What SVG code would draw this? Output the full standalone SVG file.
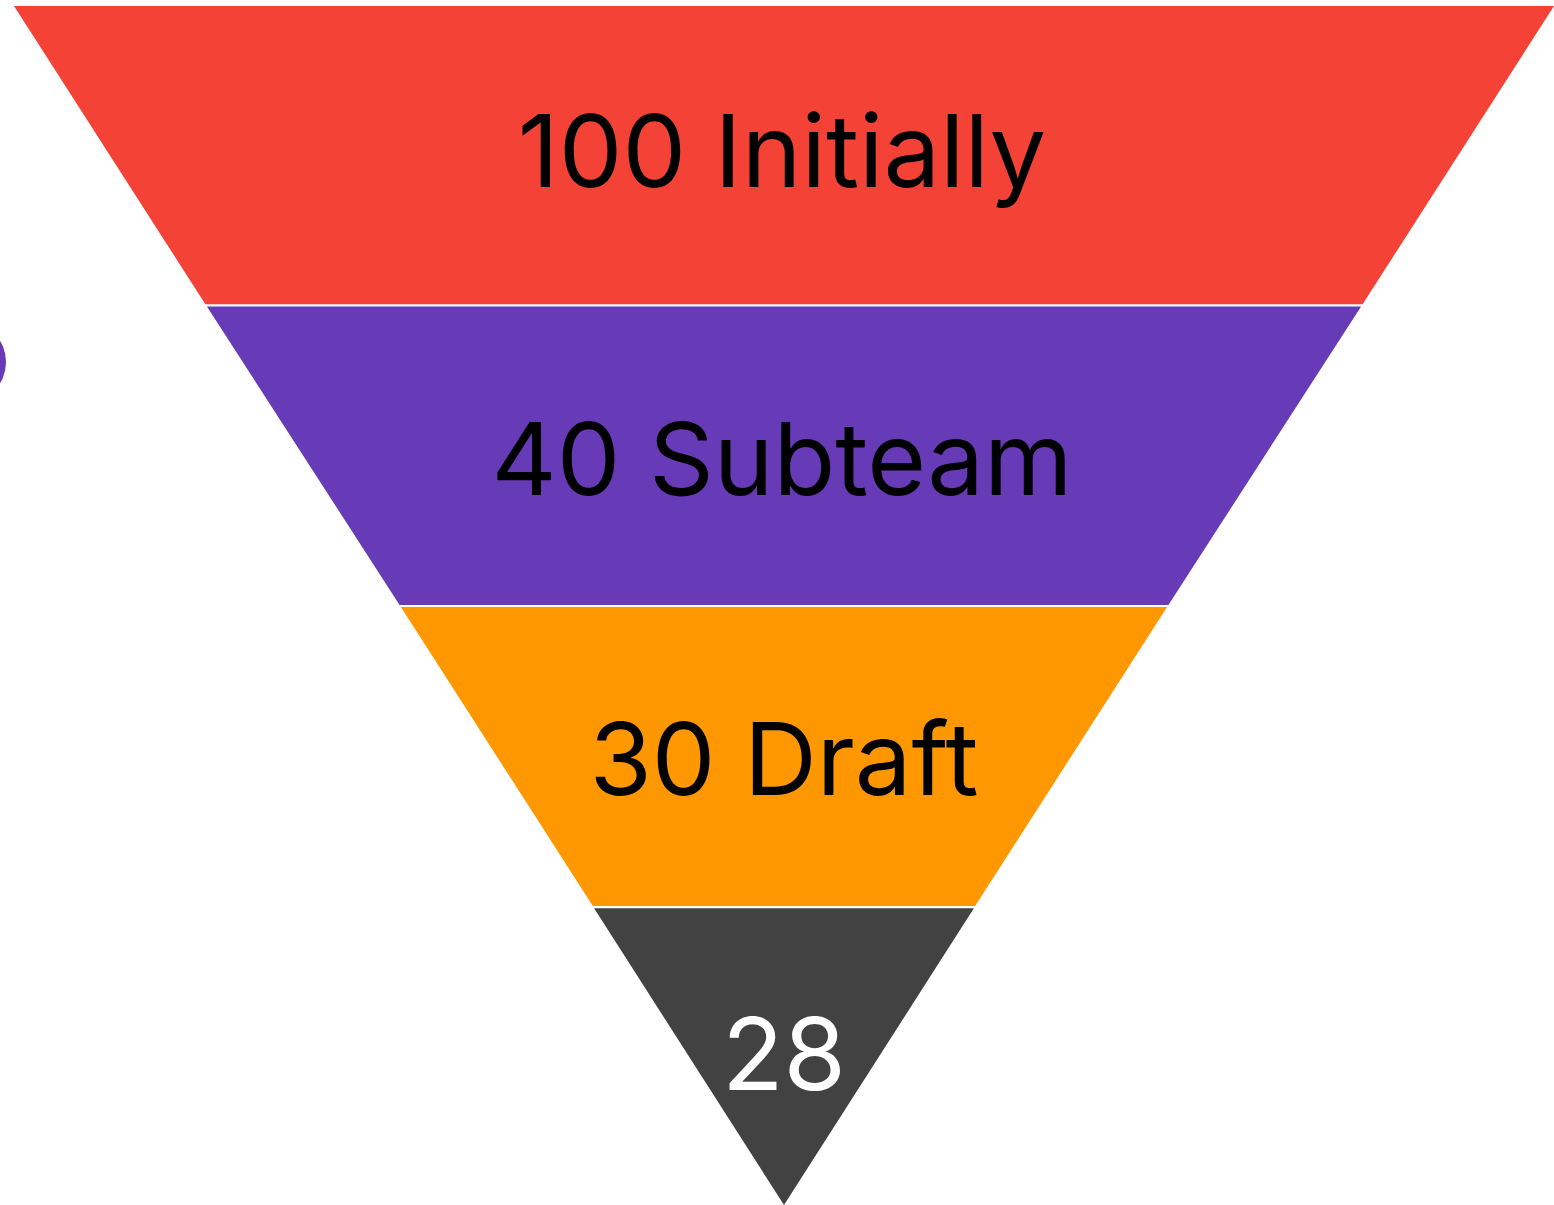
<svg xmlns="http://www.w3.org/2000/svg" width="1554" height="1205" viewBox="0 0 1554 1205">
<style>
.lbl{font-family:Inter,"Noto Sans","Liberation Sans",sans-serif;font-size:101px;text-anchor:middle}
.band{stroke:none}
</style>
<rect width="1554" height="1205" fill="#ffffff"/>
<g id="dot"><circle cx="-35" cy="362" r="41" fill="#673ab7"/></g>
<g id="band-initially">
<polygon class="band" fill="#f44336" points="14,6 1554,6 1362.6,304.3 205.4,304.3"/>
<text class="lbl" x="782" y="187" fill="#000000">100 Initially</text>
</g>
<g id="band-subteam">
<polygon class="band" fill="#673ab7" points="206.9,306.5 1361.1,306.5 1168.4,605 399.6,605"/>
<text class="lbl" x="782" y="495" fill="#000000">40 Subteam</text>
</g>
<g id="band-draft">
<polygon class="band" fill="#ff9800" points="400.9,607 1167.1,607 975.2,906 592.8,906"/>
<text class="lbl" x="784" y="795" fill="#000000">30 Draft</text>
</g>
<g id="band-28">
<polygon class="band" fill="#424242" points="594.1,908.3 973.9,908.3 784,1205"/>
<text class="lbl" x="784" y="1090" fill="#ffffff">28</text>
</g>
<g id="connectors"></g>
</svg>
